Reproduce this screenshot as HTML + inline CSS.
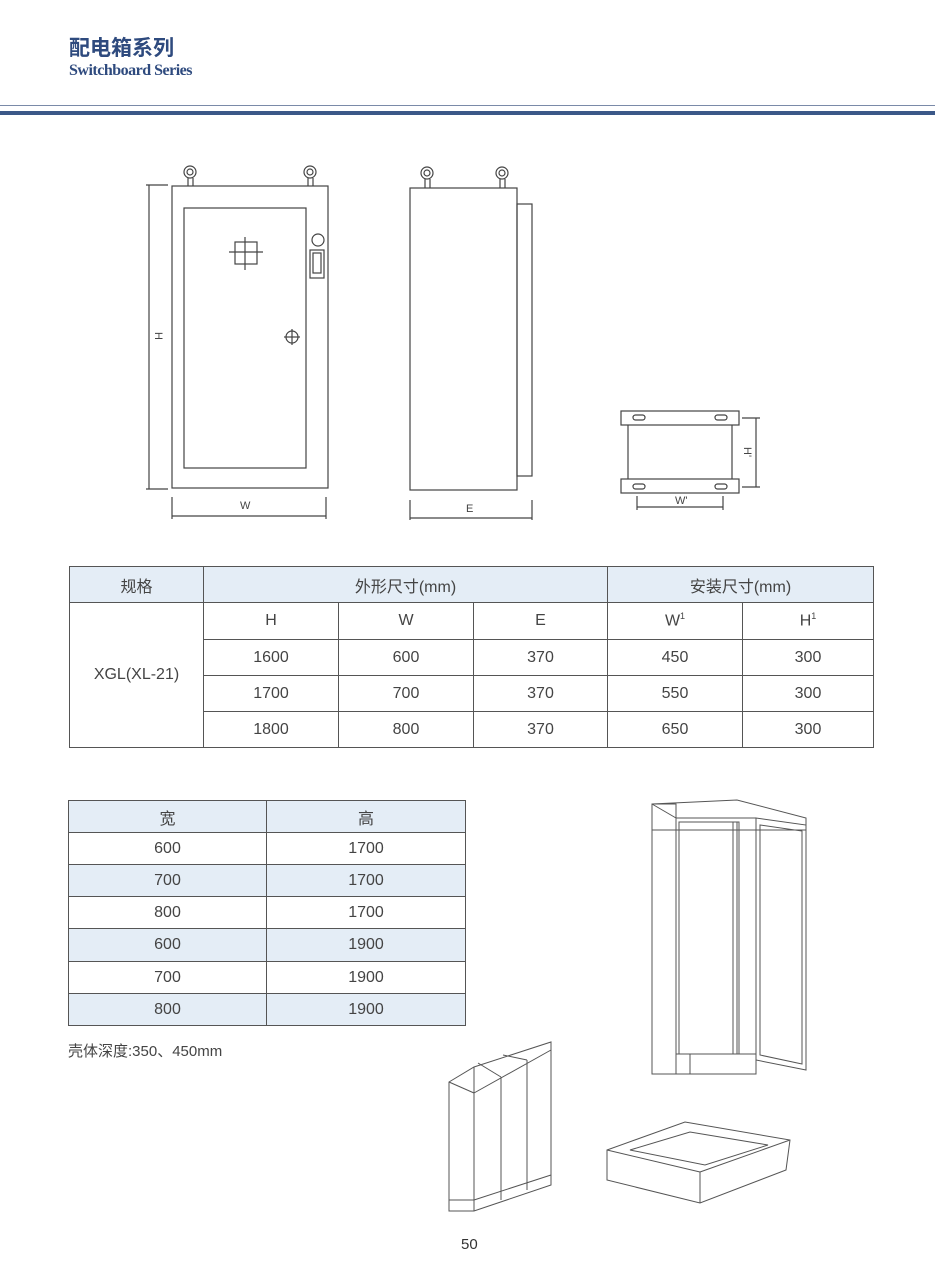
<!DOCTYPE html>
<html><head><meta charset="utf-8">
<style>
body{margin:0;background:#fff;}
.page{position:relative;width:935px;height:1281px;overflow:hidden;background:#fff;font-family:"Liberation Sans","Noto Sans CJK SC",sans-serif;color:#333;}
.t1{position:absolute;left:69px;top:32px;font-family:"Noto Sans CJK SC",sans-serif;font-weight:bold;font-size:21px;color:#2e4a7e;letter-spacing:0px;}
.t2{position:absolute;left:69px;top:62px;font-family:"Liberation Serif",serif;font-weight:bold;font-size:16px;color:#2e4a7e;letter-spacing:-0.5px;}
table{position:absolute;border-collapse:collapse;font-size:16px;color:#444;border:1.5px solid #333;}
td{border:1px solid #555;text-align:center;padding:0;}
.sh{background:#e4edf6;}
</style></head><body><div class="page">
<div class="t1">配电箱系列</div>
<div class="t2">Switchboard Series</div>
<div style="position:absolute;left:0;top:105px;width:935px;height:1px;background:#7a8aa8"></div>
<div style="position:absolute;left:0;top:111px;width:935px;height:4px;background:#3b5888"></div>

<svg style="position:absolute;left:0;top:0" width="935" height="560" fill="none" stroke="#444" stroke-width="1.2">
<rect x="172" y="186" width="156" height="302"/>
<rect x="184" y="208" width="122" height="260"/>
<circle cx="190" cy="172" r="6"/><circle cx="190" cy="172" r="3"/><line x1="188" y1="178" x2="188" y2="186"/><line x1="193" y1="178" x2="193" y2="186"/>
<circle cx="310" cy="172" r="6"/><circle cx="310" cy="172" r="3"/><line x1="308" y1="178" x2="308" y2="186"/><line x1="313" y1="178" x2="313" y2="186"/>
<rect x="235" y="242" width="22" height="22"/><line x1="229" y1="252" x2="263" y2="252"/><line x1="245" y1="237" x2="245" y2="270"/>
<circle cx="292" cy="337" r="6"/><line x1="284" y1="337" x2="300" y2="337"/><line x1="292" y1="329" x2="292" y2="345"/>
<circle cx="318" cy="240" r="6"/><rect x="310" y="250" width="14" height="28"/><rect x="313" y="253" width="8" height="20"/>
<line x1="149" y1="185" x2="149" y2="489"/><line x1="146" y1="185" x2="168" y2="185"/><line x1="146" y1="489" x2="168" y2="489"/>
<line x1="172" y1="516" x2="326" y2="516"/><line x1="172" y1="497" x2="172" y2="519"/><line x1="326" y1="497" x2="326" y2="519"/>
<rect x="410" y="188" width="107" height="302"/>
<rect x="517" y="204" width="15" height="272"/>
<circle cx="427" cy="173" r="6"/><circle cx="427" cy="173" r="3"/><line x1="425" y1="179" x2="425" y2="188"/><line x1="430" y1="179" x2="430" y2="188"/>
<circle cx="502" cy="173" r="6"/><circle cx="502" cy="173" r="3"/><line x1="500" y1="179" x2="500" y2="188"/><line x1="505" y1="179" x2="505" y2="188"/>
<line x1="410" y1="518" x2="532" y2="518"/><line x1="410" y1="500" x2="410" y2="520"/><line x1="532" y1="500" x2="532" y2="520"/>
<rect x="621" y="411" width="118" height="14"/><rect x="621" y="479" width="118" height="14"/>
<line x1="628" y1="425" x2="628" y2="479"/><line x1="732" y1="425" x2="732" y2="479"/>
<rect x="633" y="415" width="12" height="5" rx="2.5"/><rect x="715" y="415" width="12" height="5" rx="2.5"/>
<rect x="633" y="484" width="12" height="5" rx="2.5"/><rect x="715" y="484" width="12" height="5" rx="2.5"/>
<line x1="756" y1="418" x2="756" y2="487"/><line x1="742" y1="418" x2="760" y2="418"/><line x1="742" y1="487" x2="760" y2="487"/>
<line x1="637" y1="507" x2="723" y2="507"/><line x1="637" y1="496" x2="637" y2="510"/><line x1="723" y1="496" x2="723" y2="510"/>
<g fill="#444" stroke="none" font-family="Liberation Sans" font-size="11">
<text x="240" y="509">W</text><text x="466" y="512">E</text><text x="675" y="504">W'</text>
<text transform="translate(155,332) rotate(90)">H</text>
<text transform="translate(744,447) rotate(90)">H'</text>
</g>
</svg>

<table style="left:69px;top:566px;width:805px;">
<tr style="height:36px"><td class="sh" style="width:133px">规格</td><td class="sh" colspan="3">外形尺寸(mm)</td><td class="sh" colspan="2">安装尺寸(mm)</td></tr>
<tr style="height:37px"><td rowspan="4">XGL(XL-21)</td><td style="width:134px">H</td><td style="width:134px">W</td><td style="width:133px">E</td><td style="width:134px">W<sup style="font-size:9px">1</sup></td><td>H<sup style="font-size:9px">1</sup></td></tr>
<tr style="height:36px"><td>1600</td><td>600</td><td>370</td><td>450</td><td>300</td></tr>
<tr style="height:36px"><td>1700</td><td>700</td><td>370</td><td>550</td><td>300</td></tr>
<tr style="height:36px"><td>1800</td><td>800</td><td>370</td><td>650</td><td>300</td></tr>
</table>

<table style="left:68px;top:800px;width:398px;">
<tr style="height:32px" class="sh"><td style="width:197px">宽</td><td>高</td></tr>
<tr style="height:32px"><td>600</td><td>1700</td></tr>
<tr style="height:32px" class="sh"><td>700</td><td>1700</td></tr>
<tr style="height:32px"><td>800</td><td>1700</td></tr>
<tr style="height:33px" class="sh"><td>600</td><td>1900</td></tr>
<tr style="height:32px"><td>700</td><td>1900</td></tr>
<tr style="height:32px" class="sh"><td>800</td><td>1900</td></tr>
</table>
<div style="position:absolute;left:68px;top:1040px;font-size:15px;color:#444">壳体深度:350、450mm</div>

<svg style="position:absolute;left:0;top:0" width="935" height="1281" fill="none" stroke="#555" stroke-width="1">
<polygon points="652,804 737,800 806,818 806,830 652,830" fill="#fff"/>
<line x1="652" y1="804" x2="676" y2="818"/><line x1="676" y1="818" x2="756" y2="818"/>
<rect x="652" y="804" width="24" height="270"/>
<line x1="676" y1="818" x2="676" y2="1070"/>
<rect x="679" y="822" width="60" height="232"/>
<line x1="733" y1="822" x2="733" y2="1054"/><line x1="737" y1="822" x2="737" y2="1054"/>
<polygon points="756,818 806,825 806,1070 756,1060"/>
<polygon points="760,825 802,831 802,1064 760,1055"/>
<rect x="676" y="1054" width="80" height="20"/><line x1="690" y1="1054" x2="690" y2="1074"/>
<polygon points="449,1082 474,1067 551,1042 551,1185 474,1211 449,1211"/>
<line x1="474" y1="1067" x2="474" y2="1211"/><line x1="449" y1="1082" x2="474" y2="1093"/>
<line x1="474" y1="1093" x2="551" y2="1050"/>
<line x1="501" y1="1077" x2="501" y2="1200"/><line x1="527" y1="1060" x2="527" y2="1190"/>
<line x1="478" y1="1063" x2="501" y2="1077"/><line x1="503" y1="1055" x2="527" y2="1060"/>
<line x1="449" y1="1200" x2="474" y2="1200"/><line x1="474" y1="1200" x2="551" y2="1175"/>
<polygon points="607,1150 685,1122 790,1140 786,1170 700,1203 607,1180"/>
<line x1="607" y1="1150" x2="700" y2="1172"/><line x1="700" y1="1172" x2="790" y2="1140"/>
<line x1="700" y1="1172" x2="700" y2="1203"/>
<polygon points="630,1150 690,1132 768,1145 705,1165"/>
</svg>
<div style="position:absolute;left:461px;top:1236px;font-size:15px;color:#333">50</div>
</div></body></html>
